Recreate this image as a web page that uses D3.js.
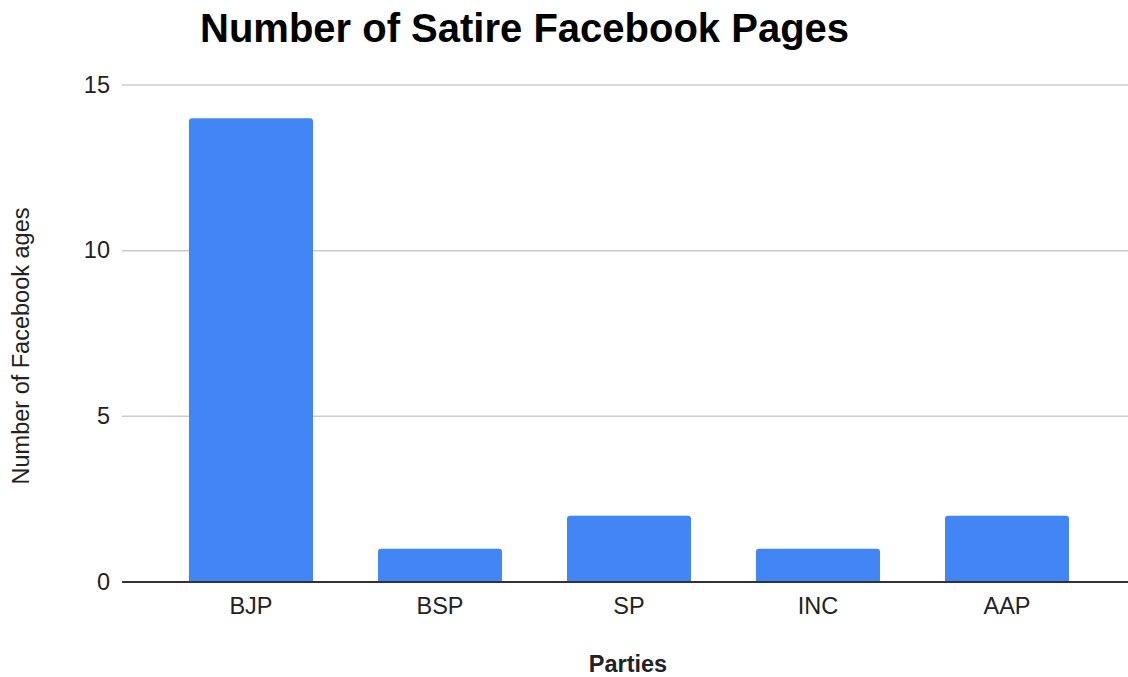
<!DOCTYPE html>
<html>
<head>
<meta charset="utf-8">
<script src="https://cdn.jsdelivr.net/npm/d3@7"></script>
<style>
  body { margin: 0; background: #fff; }
  text { font-family: "Liberation Sans", Arial, sans-serif; }
</style>
</head>
<body>
<svg id="chart" width="1128" height="677"></svg>
<script>
var parties = ["BJP", "BSP", "SP", "INC", "AAP"]
var pageCounts = [14, 1, 2, 1, 2]
var yTicks = [0, 5, 10, 15]

var width = 1128, height = 677
var plot = { left: 122, right: 1128, top: 85, bottom: 582 }

var svg = d3.select("#chart")

var xScale = d3.scaleBand()
    .domain(parties)
    .range([156.5, 1101.5])
    .paddingInner(0.344)
    .paddingOuter(0.172)

var yScale = d3.scaleLinear()
    .domain([0, 15])
    .range([plot.bottom, plot.top])

// gridlines
svg.append("g").selectAll("line")
    .data(yTicks.filter(function(d){ return d != 0 }))
  .enter().append("line")
    .attr("x1", plot.left)
    .attr("x2", plot.right)
    .attr("y1", function(d){ return yScale(d) })
    .attr("y2", function(d){ return yScale(d) })
    .attr("stroke", "#cccccc")
    .attr("stroke-width", 1.5)

// y tick labels
svg.append("g").selectAll("text")
    .data(yTicks)
  .enter().append("text")
    .attr("x", 110)
    .attr("y", function(d){ return yScale(d) })
    .attr("dy", "0.33em")
    .attr("text-anchor", "end")
    .attr("font-size", 23.5)
    .attr("fill", "#222")
    .text(function(d){ return d })

// bars with rounded tops
var r = 3
svg.append("g").selectAll("path")
    .data(parties)
  .enter().append("path")
    .attr("fill", "#4285f4")
    .attr("d", function(d, i){
      var x0 = xScale(d), w = xScale.bandwidth()
      var y0 = yScale(pageCounts[i]), y1 = yScale(0)
      return "M" + x0 + "," + y1 +
        "V" + (y0 + r) +
        "Q" + x0 + "," + y0 + " " + (x0 + r) + "," + y0 +
        "H" + (x0 + w - r) +
        "Q" + (x0 + w) + "," + y0 + " " + (x0 + w) + "," + (y0 + r) +
        "V" + y1 + "Z"
    })

// baseline
svg.append("line")
    .attr("x1", plot.left)
    .attr("x2", plot.right)
    .attr("y1", yScale(0))
    .attr("y2", yScale(0))
    .attr("stroke", "#333")
    .attr("stroke-width", 2)

// x labels
svg.append("g").selectAll("text")
    .data(parties)
  .enter().append("text")
    .attr("x", function(d){ return xScale(d) + xScale.bandwidth() / 2 })
    .attr("y", 614)
    .attr("text-anchor", "middle")
    .attr("font-size", 23.5)
    .attr("fill", "#222")
    .text(function(d){ return d })

// titles
svg.append("text")
    .attr("x", 200)
    .attr("y", 42)
    .attr("font-size", 40)
    .attr("font-weight", "bold")
    .attr("fill", "#000")
    .text("Number of Satire Facebook Pages")

svg.append("text")
    .attr("x", 628)
    .attr("y", 672)
    .attr("text-anchor", "middle")
    .attr("font-size", 23.5)
    .attr("font-weight", "bold")
    .attr("fill", "#222")
    .text("Parties")

svg.append("text")
    .attr("transform", "translate(29,346) rotate(-90)")
    .attr("text-anchor", "middle")
    .attr("font-size", 23.5)
    .attr("fill", "#222")
    .text("Number of Facebook ages")
</script>
</body>
</html>
